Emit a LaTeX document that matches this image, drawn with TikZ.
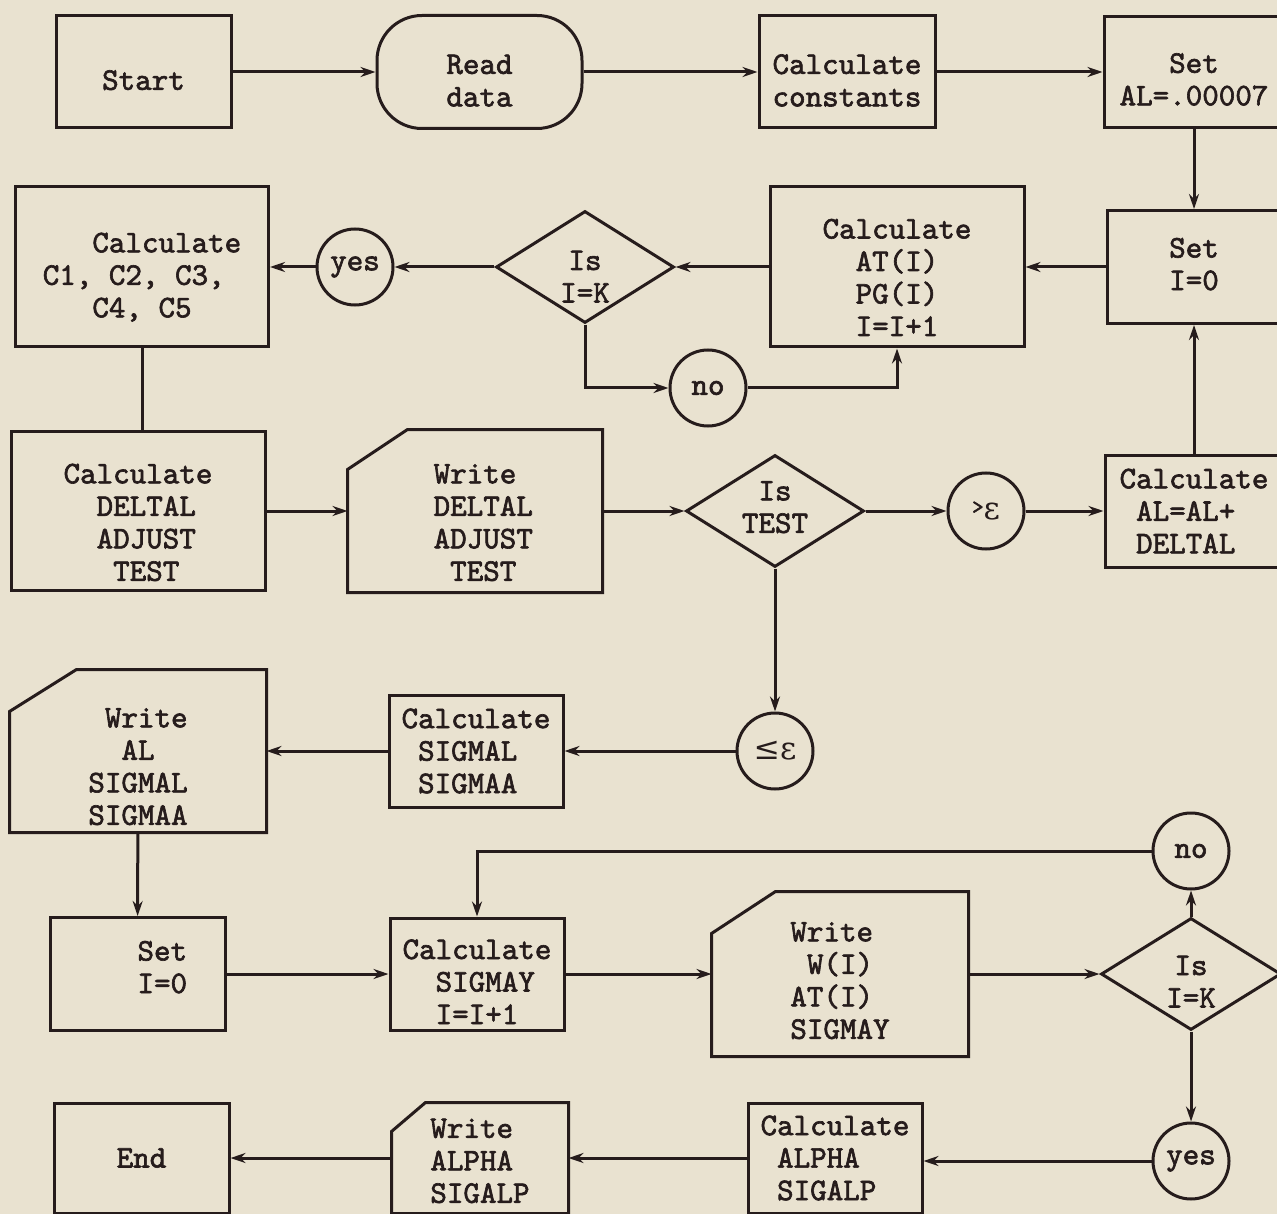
\documentclass[tikz,border=0pt]{standalone}
\usepackage{fontspec}
\usepackage{tikz}
\usetikzlibrary{arrows.meta}
\usetikzlibrary{shapes.geometric}
\usetikzlibrary{positioning, calc}
\newfontfamily\typew{lmmono10-regular.otf}[FakeBold=2]
\newfontfamily\greek{DejaVu Serif}
\definecolor{paper}{RGB}{233,226,208}
\definecolor{ink}{RGB}{38,28,28}

% outline of a card node: top-left corner cut off
\newcommand{\cardedge}[3]{%
  \draw ([yshift=-#3]#1.north west) -- ([xshift=#2]#1.north west)
    -- (#1.north east) -- (#1.south east) -- (#1.south west) -- cycle;}

\begin{document}
\begin{tikzpicture}[x=1pt, y=-1pt, line width=3pt, color=ink,
    font=\typew\fontsize{31.5}{32.5}\selectfont,
    box/.style={draw, rectangle, inner sep=0pt, align=center},
    card/.style={rectangle, inner sep=0pt, align=left},
    stad/.style={draw, rectangle, rounded corners=45pt, inner sep=0pt, align=center},
    dec/.style={draw, diamond, aspect=1.6, inner sep=0pt, align=center,
        minimum width=178pt, minimum height=112pt},
    ring/.style={draw, circle, minimum size=76pt, inner sep=0pt},
    dn/.style={execute at begin node={\rule{0pt}{#1}}},
    up/.style={execute at end node={\rule[-#1]{0pt}{#1}}},
    arr/.style={-{Stealth[length=15pt,width=10pt]}}]

    \fill[paper] (0,0) rectangle (1277,1214);
    \useasboundingbox (0,0) rectangle (1277,1214);

    % first row
    \node[box, dn=36pt, minimum width=175pt, minimum height=112pt] (start) at (143.5,72) {Start};
    \node[stad, dn=69pt, minimum width=205pt, minimum height=113pt] (read) at (479.5,72) {Read\\data};
    \node[box, dn=69pt, minimum width=176pt, minimum height=112pt] (const) at (847,72) {Calculate\\constants};
    \node[box, dn=67pt, minimum width=180pt, minimum height=111pt] (setal) at (1194,72) {Set\\AL=.00007};

    % loop over I
    \node[box, up=6pt, minimum width=174pt, minimum height=113pt] (seti) at (1194,267) {Set\\I=0};
    \node[box, dn=138pt, minimum width=254pt, minimum height=160pt] (calcat) at (897,267) {Calculate\\AT(I)\\PG(I)\\I=I+1};
    \node[dec, dn=71pt] (isk) at (585,267) {Is\\I=K};
    \node[box, dn=105pt, align=left, minimum width=253pt, minimum height=160pt] (ccoef) at (142,267)
        {\phantom{XXX}Calculate\\C1, C2, C3,\\\phantom{XXX}C4, C5};

    % test row
    \node[box, dn=140pt, align=left, minimum width=254pt, minimum height=159pt] (dcalc) at (138,511)
        {Calculate\\\phantom{XX}DELTAL\\\phantom{XX}ADJUST\\\phantom{XXX}TEST};
    \node[card, dn=140pt, minimum width=252pt, minimum height=160pt] (dwrite) at (475,511)
        {\phantom{X}Write\\\phantom{X}DELTAL\\\phantom{X}ADJUST\\\phantom{XX}TEST};
    \node[dec, up=8pt] (istest) at (775,511) {Is\\TEST};
    \node[ring] (gt) at (986,511) {\raisebox{6pt}{\fontsize{22}{22}\selectfont>}{\greek ε}};
    \node[box, align=left, minimum width=178pt, minimum height=112pt] (alcalc) at (1194,511)
        {Calculate\\\phantom{X}AL=AL+\\\phantom{X}DELTAL};

    % converged
    \node[ring] (le) at (775,751) {{\greek ≤ε}};
    \node[box, align=left, minimum width=174pt, minimum height=112pt] (sigcalc) at (476,751)
        {Calculate\\\phantom{X}SIGMAL\\\phantom{X}SIGMAA};
    \node[card, dn=148pt, minimum width=254pt, minimum height=160pt] (alwrite) at (138,751)
        {\phantom{X}Write\\\phantom{XX}AL\\SIGMAL\\SIGMAA};

    % second loop
    \node[box, up=14pt, align=left, minimum width=175pt, minimum height=113pt] (seti2) at (137.5,974)
        {\phantom{XXX}Set\\\phantom{XXX}I=0};
    \node[box, dn=100pt, align=left, minimum width=174pt, minimum height=112pt] (sigy) at (477,974)
        {Calculate\\\phantom{XX}SIGMAY\\\phantom{XX}I=I+1};
    \node[card, dn=130pt, minimum width=254pt, minimum height=162pt] (wwrite) at (840,974)
        {Write\\\phantom{X}W(I)\\AT(I)\\SIGMAY};
    \node[dec, dn=67pt, minimum width=180pt] (isk2) at (1191,974) {Is\\I=K};

    % last row
    \node[box, minimum width=175pt, minimum height=110pt] (endb) at (141.5,1158) {End};
    \node[card, dn=90pt, minimum width=174pt, minimum height=108pt] (awrite) at (480,1158)
        {Write\\ALPHA\\SIGALP};
    \node[box, align=left, minimum width=174pt, minimum height=110pt] (acalc) at (835,1158)
        {Calculate\\\phantom{X}ALPHA\\\phantom{X}SIGALP};

    \foreach \n/\x/\y/\t in {
        yesa/355/267/yes, noa/708/388/no,
        nob/1191/851/no, yesb/1191/1161/yes}
        \node[ring] (\n) at (\x,\y) {\t};

    \foreach \n/\dx/\dy in {
        dwrite/60/40, alwrite/67/42, wwrite/64/42, awrite/34/29}
        \cardedge{\n}{\dx pt}{\dy pt};

    % connectors
    \draw[arr] (start) -- (read);
    \draw[arr] (read) -- (const);
    \draw[arr] (const) -- (setal);
    \draw[arr] (setal) -- (seti);
    \draw[arr] (seti) -- (calcat);
    \draw[arr] (calcat) -- (isk);
    \draw[arr] (isk) -- (yesa);
    \draw[arr] (yesa) -- (ccoef);
    \draw[arr] (isk) |- (noa);
    \draw[arr] (noa) -| (calcat);
    \draw (ccoef.south) -- (ccoef.south |- dcalc.north);

    \draw[arr] (dcalc) -- (dwrite);
    \draw[arr] (dwrite) -- (istest);
    \draw[arr] (istest) -- (gt);
    \draw[arr] (gt) -- (alcalc);
    \draw[arr] (alcalc) -- (seti);
    \draw[arr] (istest) -- (le);
    \draw[arr] (le) -- (sigcalc);
    \draw[arr] (sigcalc) -- (alwrite);
    \draw[arr] (alwrite) -- (seti2);

    \draw[arr] (seti2) -- (sigy);
    \draw[arr] (sigy) -- (wwrite);
    \draw[arr] (wwrite) -- (isk2);
    \draw[arr] (isk2) -- (nob);
    \draw[arr] (nob) -| (sigy);
    \draw[arr] (isk2) -- (yesb);
    \draw[arr] (yesb) -- (yesb -| acalc.east);
    \draw[arr] (acalc) -- (awrite);
    \draw[arr] (awrite) -- (endb);

\end{tikzpicture}
\end{document}
